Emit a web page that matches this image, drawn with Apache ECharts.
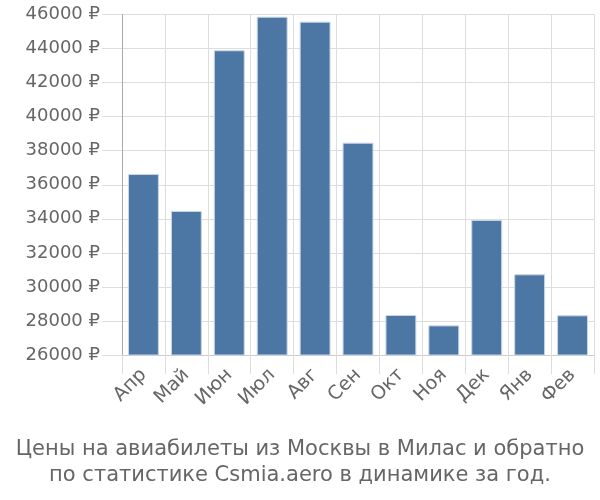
<!DOCTYPE html>
<html><head><meta charset="utf-8">
<script src="https://cdn.jsdelivr.net/npm/echarts@6/dist/echarts.min.js"></script>
<style>html,body{margin:0;padding:0;background:#fff}#c{width:600px;height:500px}</style>
</head><body><div id="c"></div>
<script>
var categories = ['Апр','Май','Июн','Июл','Авг','Сен','Окт','Ноя','Дек','Янв','Фев'];
var prices = [36630, 34460, 43900, 45870, 45580, 38470, 28350, 27740, 33930, 30740, 28330];
var yMin = 26000, yMax = 46000, yStep = 2000;
var titleLines = ['Цены на авиабилеты из Москвы в Милас и обратно', 'по статистике Csmia.aero в динамике за год.'];
var FONT = 'DejaVu Sans, Verdana, sans-serif';

var chart = echarts.init(document.getElementById('c'));
chart.setOption({
  animation: false,
  textStyle: {fontFamily: FONT},
  title: {
    text: titleLines.join('\n'),
    left: 'center', top: 432,
    textStyle: {fontSize: 21, fontWeight: 'normal', color: '#666', lineHeight: 26, fontFamily: FONT}
  },
  grid: {left: 122, right: 6, top: 14.5, bottom: 145},
  xAxis: {
    type: 'category', data: categories,
    axisLine: {lineStyle: {color: '#ccc'}},
    axisTick: {show: true, length: 19, lineStyle: {color: '#ddd'}},
    splitLine: {show: true, lineStyle: {color: '#ddd', width: 1}},
    axisLabel: {rotate: 45, fontSize: 19, color: '#666', margin: 17, interval: 0}
  },
  yAxis: {
    type: 'value', min: yMin, max: yMax, interval: yStep,
    axisLine: {show: true, lineStyle: {color: '#aaa'}},
    axisTick: {show: true, length: 20, lineStyle: {color: '#ddd'}},
    splitLine: {lineStyle: {color: '#ddd', width: 1}},
    axisLabel: {fontSize: 18, color: '#666', margin: 22, formatter: function(v){return v + ' ₽';}}
  },
  series: [{
    type: 'bar', data: prices, barCategoryGap: '28%',
    itemStyle: {color: '#4c77a5', borderColor: '#c8d6e6', borderWidth: 1}
  }]
});
</script></body></html>
